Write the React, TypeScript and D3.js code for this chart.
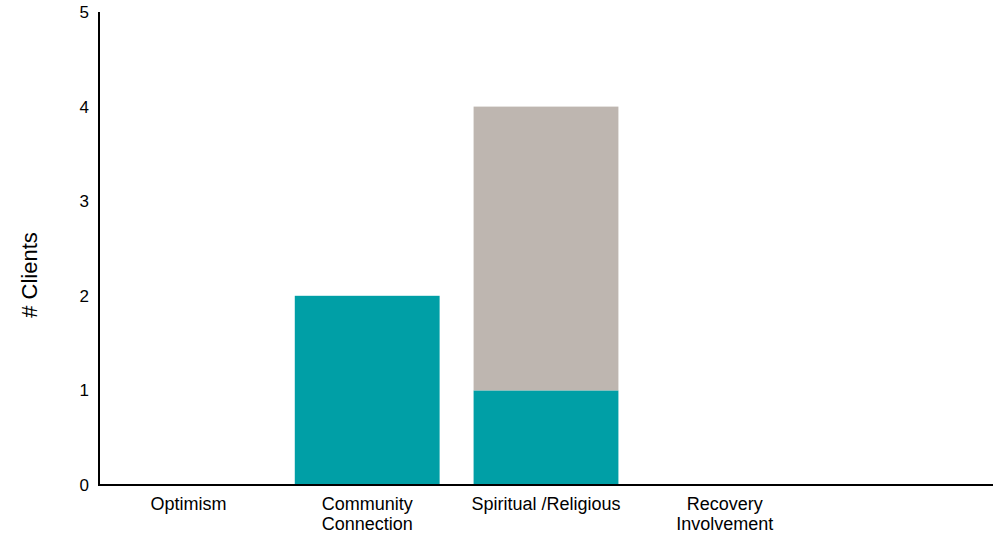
import React from "react";
import * as d3 from "d3";

const categories: string[][] = [
  ["Optimism"],
  ["Community", "Connection"],
  ["Spiritual /Religious"],
  ["Recovery", "Involvement"],
  [""],
];
const seriesA: number[] = [0, 2, 1, 0, 0];
const seriesB: number[] = [0, 0, 3, 0, 0];
const yTicks: number[] = [0, 1, 2, 3, 4, 5];
const colors = ["#009FA6", "#BEB6B0"];

export default function App() {
  const W = 1002, H = 536;
  const left = 99, right = 993, top = 12, bottom = 485;
  const keys = categories.map((_, i) => String(i));
  const x = d3.scaleBand<string>().domain(keys).range([left, right]).paddingInner(0.19).paddingOuter(0.095);
  const y = d3.scaleLinear().domain([0, 5]).range([bottom, top]);
  const data = keys.map((k, i) => ({ key: k, a: seriesA[i], b: seriesB[i] }));
  const stacked = d3.stack<any>().keys(["a", "b"])(data);
  const font = "Arial, 'Liberation Sans', Helvetica, sans-serif";
  return (
    <svg width={W} height={H} style={{ position: "absolute", left: 0, top: 0, background: "#fff" }}>
      {stacked.map((s, si) =>
        s.map((d, i) =>
          d[1] - d[0] > 0 ? (
            <rect key={si + "-" + i} x={x(keys[i])} width={x.bandwidth()} y={y(d[1])} height={y(d[0]) - y(d[1])} fill={colors[si]} />
          ) : null
        )
      )}
      <line x1={left} x2={left} y1={top} y2={bottom + 1} stroke="#000" strokeWidth={2} />
      <line x1={left - 1} x2={right} y1={bottom} y2={bottom} stroke="#000" strokeWidth={2} />
      {yTicks.map((t) => (
        <text key={t} x={left - 10} y={y(t)} dy="0.35em" textAnchor="end" fontFamily={font} fontSize={17} fill="#000">{t}</text>
      ))}
      {categories.map((lines, i) => (
        <text key={i} textAnchor="middle" fontFamily={font} fontSize={18} fill="#000">
          {lines.map((l, j) => (
            <tspan key={j} x={(x(keys[i]) as number) + x.bandwidth() / 2} y={510 + j * 19.5}>{l}</tspan>
          ))}
        </text>
      ))}
      <text transform={`translate(37, ${275}) rotate(-90)`} textAnchor="middle" fontFamily={font} fontSize={22} fill="#000">
        # Clients
      </text>
    </svg>
  );
}
